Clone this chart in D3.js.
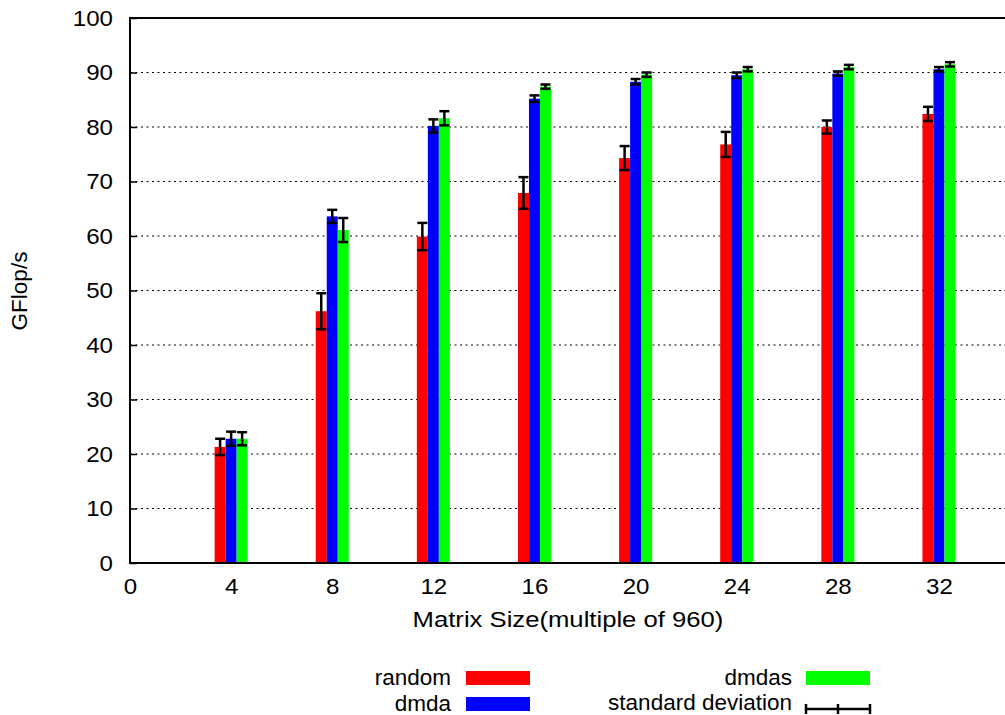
<!DOCTYPE html>
<html>
<head>
<meta charset="utf-8">
<script src="https://cdn.jsdelivr.net/npm/d3@7"></script>
<style>
  body { margin: 0; background: #fff; }
  text { font-family: "Liberation Sans", Arial, sans-serif; }
</style>
</head>
<body>
<div class="canvas"></div>
<script>
// matrix sizes (multiple of 960)
const sizes = [4, 8, 12, 16, 20, 24, 28, 32];
const yTicks = [0, 10, 20, 30, 40, 50, 60, 70, 80, 90, 100];
const xTicks = [0, 4, 8, 12, 16, 20, 24, 28, 32];
const seriesNames = ["random", "dmda", "dmdas"];
const colors = ["#ff0000", "#0000ff", "#00ff00"];
// GFlop/s
const randomVals = [21.3, 46.2, 59.9, 67.9, 74.3, 76.8, 80.0, 82.4];
const dmdaVals = [22.8, 63.6, 80.2, 85.2, 88.3, 89.5, 89.8, 90.6];
const dmdasVals = [22.8, 61.1, 81.6, 87.4, 89.6, 90.6, 91.0, 91.5];
// standard deviation
const randomErr = [1.5, 3.3, 2.5, 2.9, 2.2, 2.3, 1.2, 1.3];
const dmdaErr = [1.3, 1.2, 1.2, 0.6, 0.5, 0.5, 0.4, 0.4];
const dmdasErr = [1.2, 2.2, 1.3, 0.4, 0.4, 0.4, 0.4, 0.4];

const W = 1005, H = 715;
const FS = 22.5;
const margin = { left: 130, top: 18, bottom: 563 };

const svg = d3.select('.canvas').append('svg')
  .attr('width', W).attr('height', H);

const x = d3.scaleLinear().domain([0, 36]).range([margin.left, margin.left + 36 * 25.28]);
const y = d3.scaleLinear().domain([0, 100]).range([margin.bottom, margin.top]);
const band = d3.scaleBand().domain(seriesNames).range([-16.5, 16.5]);

// stretch a text horizontally, the original lettering is wider than Liberation Sans
function widen(sel, k) {
  sel.each(function () {
    const len = this.getComputedTextLength();
    d3.select(this).attr('textLength', len * k).attr('lengthAdjust', 'spacingAndGlyphs');
  });
}

// grid lines
svg.append('g').selectAll('line')
  .data(yTicks.filter(d => d > 0 && d < 100))
  .enter().append('line')
  .attr('x1', margin.left).attr('x2', W)
  .attr('y1', d => y(d)).attr('y2', d => y(d))
  .attr('stroke', '#000').attr('stroke-width', 1)
  .attr('stroke-dasharray', '2,3.5');

// bars
const vals = [randomVals, dmdaVals, dmdasVals];
const errs = [randomErr, dmdaErr, dmdasErr];
const rows = [];
seriesNames.forEach((s, k) => {
  sizes.forEach((sz, i) => rows.push({ s: s, k: k, size: sz, v: vals[k][i], e: errs[k][i] }));
});

svg.append('g').selectAll('rect')
  .data(rows).enter().append('rect')
  .attr('x', d => x(d.size) + band(d.s))
  .attr('width', band.bandwidth())
  .attr('y', d => y(d.v))
  .attr('height', d => y(0) - y(d.v))
  .attr('fill', d => colors[d.k]);

// error bars
const eb = svg.append('g').attr('stroke', '#000').attr('stroke-width', 2.5);
rows.forEach(d => {
  const cx = x(d.size) + band(d.s) + band.bandwidth() / 2;
  eb.append('line').attr('x1', cx).attr('x2', cx).attr('y1', y(d.v - d.e)).attr('y2', y(d.v + d.e));
  [d.v - d.e, d.v + d.e].forEach(t => {
    eb.append('line').attr('x1', cx - 5).attr('x2', cx + 5).attr('y1', y(t)).attr('y2', y(t));
  });
});

// border (left, top, bottom)
svg.append('path')
  .attr('d', `M${W},${margin.top}H${margin.left}V${margin.bottom}H${W}`)
  .attr('fill', 'none').attr('stroke', '#000').attr('stroke-width', 2);

// y axis
const yAxis = svg.append('g').attr('transform', `translate(${margin.left},0)`)
  .call(d3.axisLeft(y).tickValues(yTicks).tickSize(-7).tickPadding(17));
yAxis.select('.domain').remove();
yAxis.selectAll('line').attr('stroke-width', 1.5);
yAxis.selectAll('text').attr('font-size', FS).attr('fill', '#000').call(widen, 1.07);

// x axis
const xAxis = svg.append('g').attr('transform', `translate(0,${margin.bottom})`)
  .call(d3.axisBottom(x).tickValues(xTicks).tickSize(0).tickPadding(15));
xAxis.select('.domain').remove();
xAxis.selectAll('text').attr('font-size', FS).attr('fill', '#000').call(widen, 1.07);

// labels
svg.append('text').attr('x', 568).attr('y', 627).attr('text-anchor', 'middle')
  .attr('font-size', FS).text('Matrix Size(multiple of 960)').call(widen, 1.14);
svg.append('text').attr('transform', 'translate(27,291) rotate(-90)')
  .attr('text-anchor', 'middle').attr('font-size', FS).text('GFlop/s');

// legend
const legend = [
  { label: 'random', tx: 451, sx: 466, y: 678, color: colors[0] },
  { label: 'dmda', tx: 451, sx: 466, y: 704, color: colors[1] },
  { label: 'dmdas', tx: 792, sx: 806, y: 678, color: colors[2] }
];
legend.forEach(l => {
  svg.append('text').attr('x', l.tx).attr('y', l.y + 7).attr('text-anchor', 'end')
    .attr('font-size', FS).text(l.label);
  svg.append('rect').attr('x', l.sx).attr('y', l.y - 7).attr('width', 64).attr('height', 14)
    .attr('fill', l.color);
});
svg.append('text').attr('x', 792).attr('y', 710).attr('text-anchor', 'end')
  .attr('font-size', FS).text('standard deviation');
const sd = svg.append('g').attr('stroke', '#000').attr('stroke-width', 2.5);
sd.append('line').attr('x1', 806).attr('x2', 870).attr('y1', 709).attr('y2', 709);
[806, 838, 870].forEach(px => {
  sd.append('line').attr('x1', px).attr('x2', px).attr('y1', 704).attr('y2', 714);
});
</script>
</body>
</html>
